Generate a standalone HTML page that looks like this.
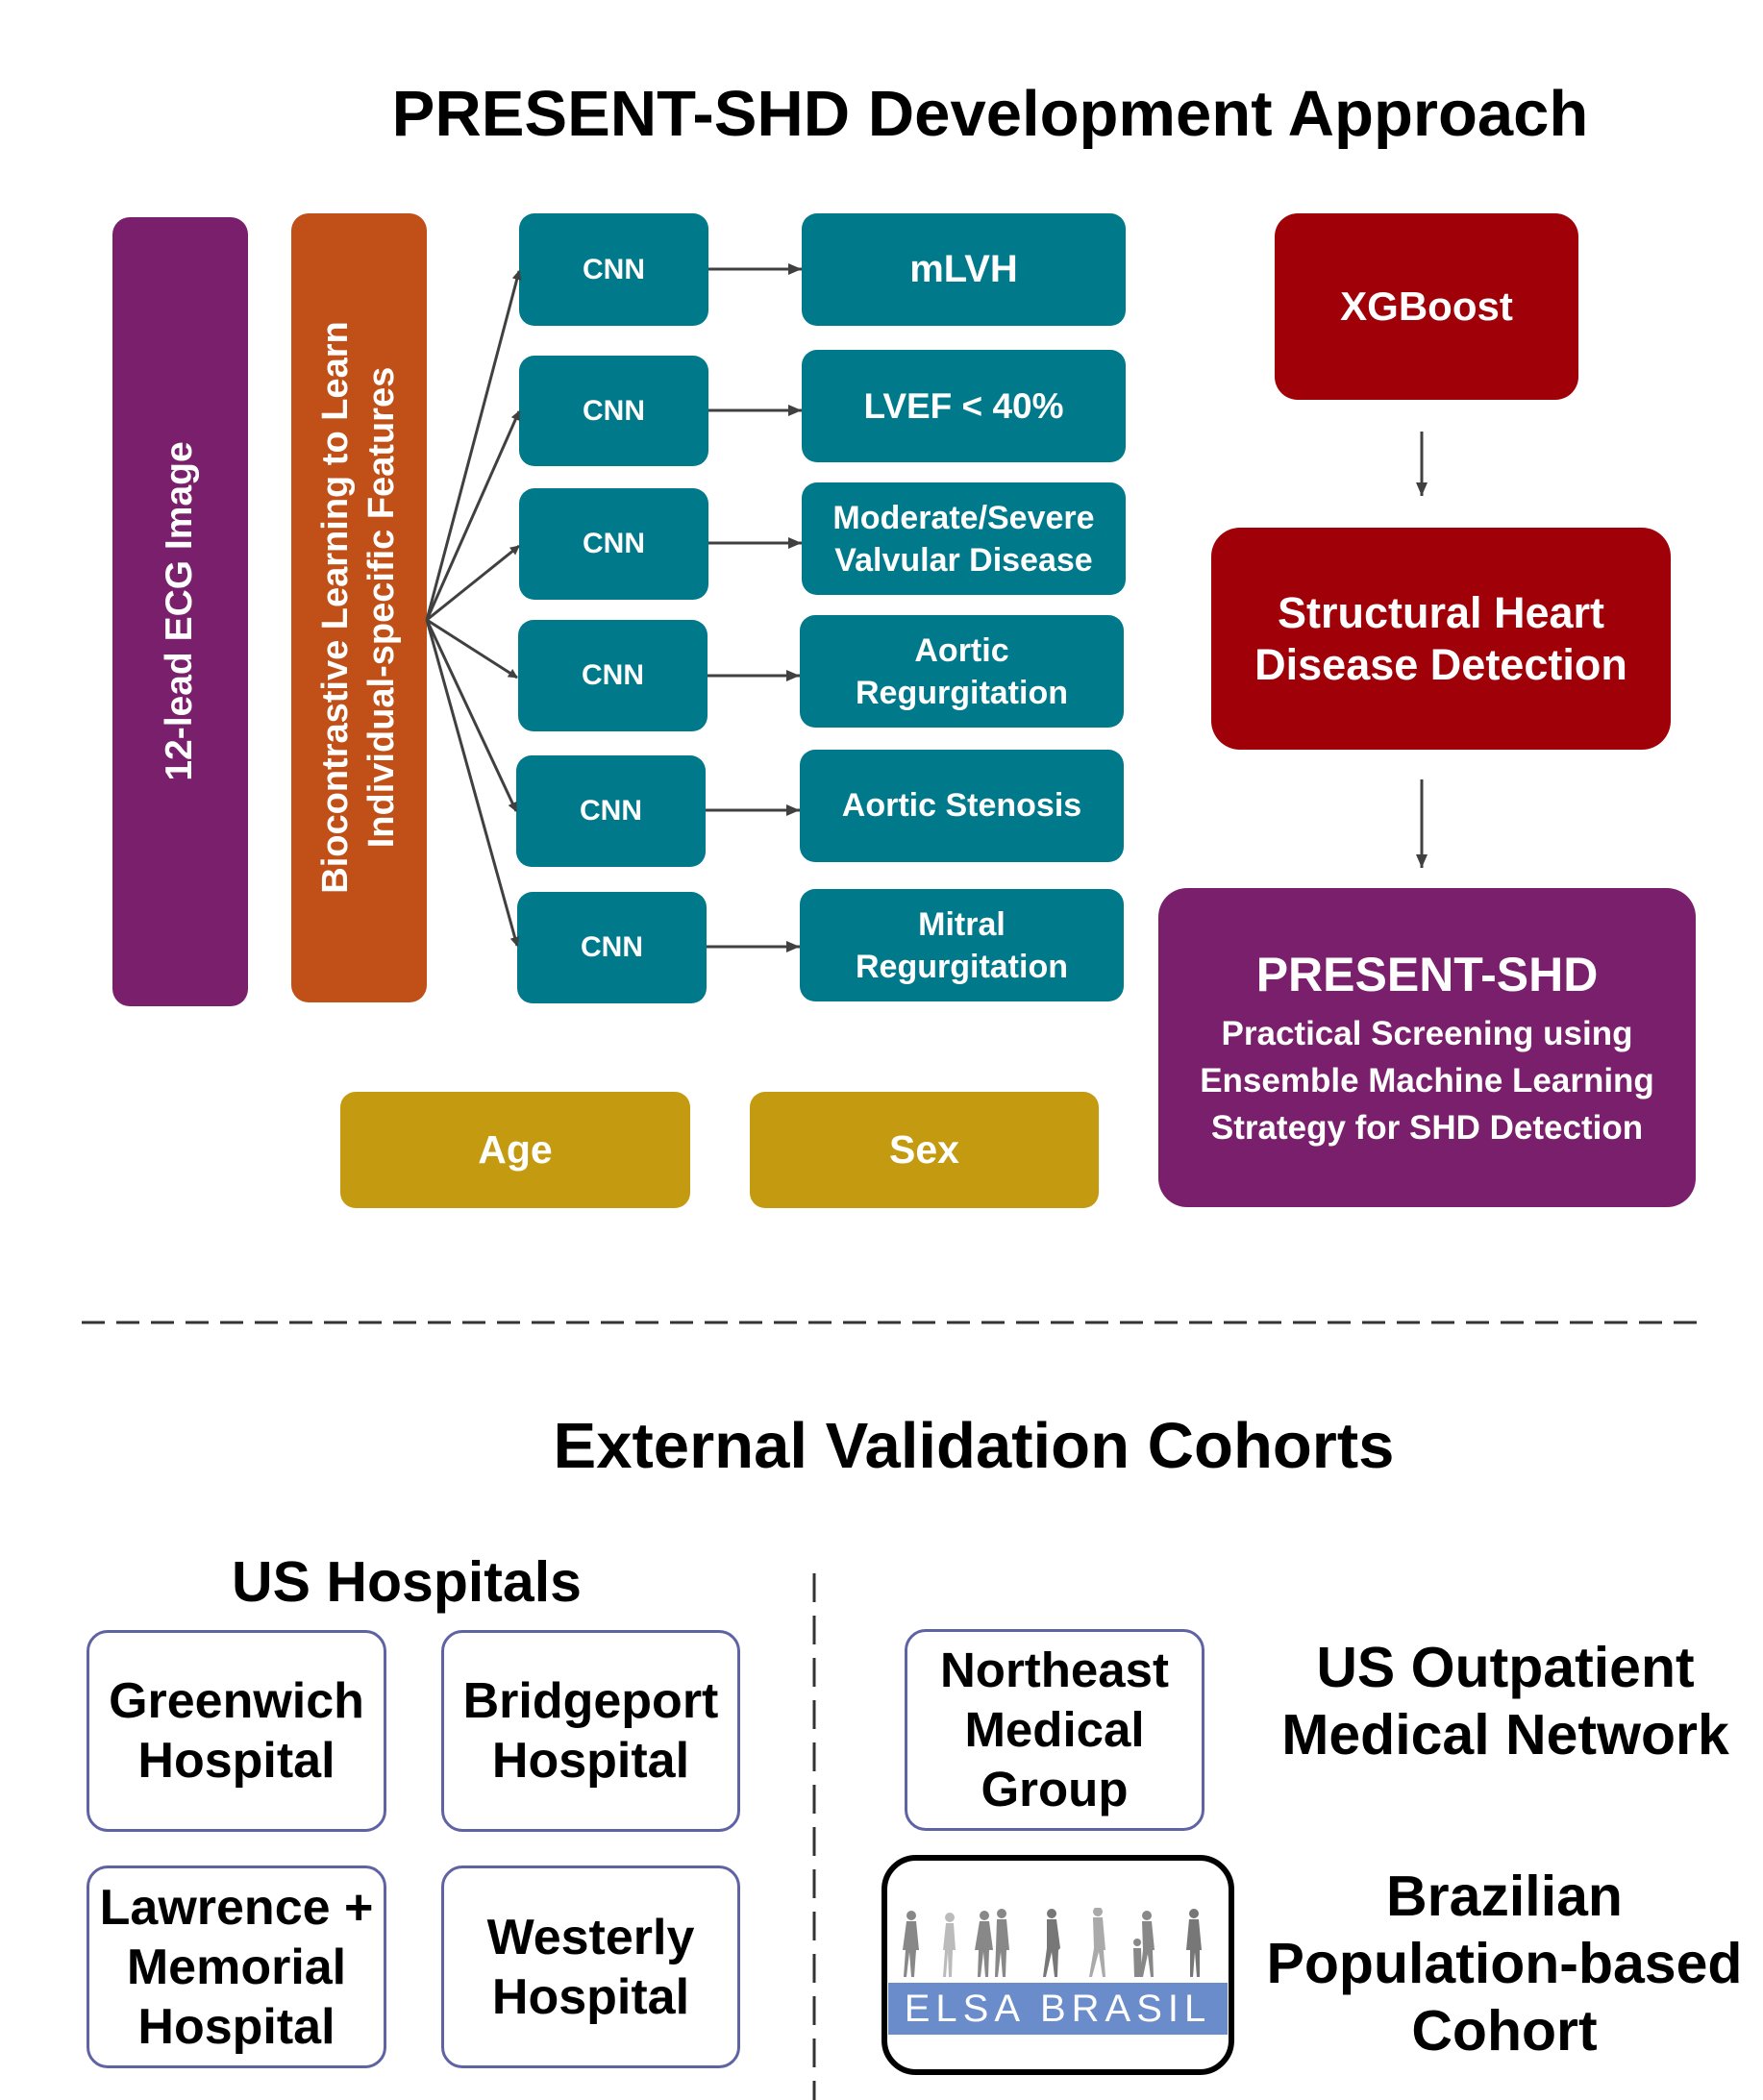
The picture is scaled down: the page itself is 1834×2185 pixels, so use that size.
<!DOCTYPE html>
<html><head><meta charset="utf-8"><style>
body{margin:0;width:1834px;height:2185px;background:#fff;position:relative;overflow:hidden;font-family:"Liberation Sans",Arial,sans-serif;}
.b{position:absolute;display:flex;align-items:center;justify-content:center;text-align:center;color:#fff;font-weight:bold;box-sizing:border-box;white-space:nowrap;}
.t{background:#00798b;border-radius:16px;}
.h{background:#fff;border:3px solid #5f62a3;border-radius:22px;color:#000;font-size:52px;line-height:62px;}
.lbl{position:absolute;text-align:center;font-weight:bold;color:#000;white-space:nowrap;}
.v{position:absolute;color:#fff;font-weight:bold;white-space:nowrap;transform:rotate(-90deg);text-align:center;}
</style></head><body>
<div class="lbl" style="left:300px;top:80px;width:1460px;font-size:67px;">PRESENT-SHD Development Approach</div>

<div class="b" style="left:117px;top:226px;width:141px;height:821px;background:#7a1f6b;border-radius:18px;"></div>
<div class="v" style="left:-223px;top:614px;width:820px;font-size:39px;line-height:44px;">12-lead ECG Image</div>
<div class="b" style="left:303px;top:222px;width:141px;height:821px;background:#c05018;border-radius:18px;"></div>
<div class="v" style="left:-37px;top:584px;width:820px;font-size:38px;line-height:48px;">Biocontrastive Learning to Learn<br>Individual-specific Features</div>

<div class="b t" style="left:540px;top:222px;width:197px;height:117px;font-size:30px;">CNN</div>
<div class="b t" style="left:540px;top:370px;width:197px;height:115px;font-size:30px;">CNN</div>
<div class="b t" style="left:540px;top:508px;width:197px;height:116px;font-size:30px;">CNN</div>
<div class="b t" style="left:539px;top:645px;width:197px;height:116px;font-size:30px;">CNN</div>
<div class="b t" style="left:537px;top:786px;width:197px;height:116px;font-size:30px;">CNN</div>
<div class="b t" style="left:538px;top:928px;width:197px;height:116px;font-size:30px;">CNN</div>

<div class="b t" style="left:834px;top:222px;width:337px;height:117px;font-size:40px;">mLVH</div>
<div class="b t" style="left:834px;top:364px;width:337px;height:117px;font-size:37px;">LVEF &lt; 40%</div>
<div class="b t" style="left:834px;top:502px;width:337px;height:117px;font-size:34px;line-height:44px;">Moderate/Severe<br>Valvular Disease</div>
<div class="b t" style="left:832px;top:640px;width:337px;height:117px;font-size:34px;line-height:44px;">Aortic<br>Regurgitation</div>
<div class="b t" style="left:832px;top:780px;width:337px;height:117px;font-size:34px;">Aortic Stenosis</div>
<div class="b t" style="left:832px;top:925px;width:337px;height:117px;font-size:34px;line-height:44px;">Mitral<br>Regurgitation</div>

<div class="b" style="left:1326px;top:222px;width:316px;height:194px;background:#a00008;border-radius:24px;font-size:42px;">XGBoost</div>
<div class="b" style="left:1260px;top:549px;width:478px;height:231px;background:#a00008;border-radius:30px;font-size:45px;line-height:54px;">Structural Heart<br>Disease Detection</div>
<div class="b" style="left:1205px;top:924px;width:559px;height:332px;background:#7a1f6b;border-radius:30px;flex-direction:column;">
<div style="font-size:50px;line-height:62px;margin-bottom:6px;">PRESENT-SHD</div>
<div style="font-size:35px;line-height:49px;">Practical Screening using<br>Ensemble Machine Learning<br>Strategy for SHD Detection</div></div>

<div class="b" style="left:354px;top:1136px;width:364px;height:121px;background:#c49a10;border-radius:16px;font-size:41px;">Age</div>
<div class="b" style="left:780px;top:1136px;width:363px;height:121px;background:#c49a10;border-radius:16px;font-size:41px;">Sex</div>

<svg style="position:absolute;left:0;top:0" width="1834" height="2185">
<defs><marker id="a" markerWidth="10" markerHeight="10" refX="9" refY="5" orient="auto" markerUnits="userSpaceOnUse"><path d="M0,0 L10,5 L0,10z" fill="#404040"/></marker>
<marker id="c" markerWidth="16" markerHeight="16" refX="14" refY="8" orient="auto" markerUnits="userSpaceOnUse"><path d="M0,2 L14,8 L0,14z" fill="#404040"/></marker></defs>
<g stroke="#404040" stroke-width="3" fill="none" marker-end="url(#a)">
<line x1="444" y1="645" x2="540" y2="282"/>
<line x1="444" y1="645" x2="540" y2="428"/>
<line x1="444" y1="645" x2="540" y2="568"/>
<line x1="444" y1="645" x2="538" y2="705"/>
<line x1="444" y1="645" x2="537" y2="844"/>
<line x1="444" y1="645" x2="538" y2="984"/>
<line x1="737" y1="280" x2="834" y2="280" marker-end="url(#c)"/>
<line x1="737" y1="427" x2="834" y2="427" marker-end="url(#c)"/>
<line x1="737" y1="565" x2="834" y2="565" marker-end="url(#c)"/>
<line x1="736" y1="703" x2="832" y2="703" marker-end="url(#c)"/>
<line x1="734" y1="843" x2="832" y2="843" marker-end="url(#c)"/>
<line x1="735" y1="985" x2="832" y2="985" marker-end="url(#c)"/>
<line x1="1479" y1="449" x2="1479" y2="516" marker-end="url(#c)"/>
<line x1="1479" y1="811" x2="1479" y2="903" marker-end="url(#c)"/>
</g>
<line x1="85" y1="1376" x2="1775" y2="1376" stroke="#333" stroke-width="3" stroke-dasharray="24,12"/>
<line x1="847" y1="1637" x2="847" y2="2185" stroke="#333" stroke-width="3" stroke-dasharray="30,14"/>
</svg>

<div class="lbl" style="left:413px;top:1466px;width:1200px;font-size:67px;">External Validation Cohorts</div>
<div class="lbl" style="left:123px;top:1612px;width:600px;font-size:59px;">US Hospitals</div>

<div class="b h" style="left:90px;top:1696px;width:312px;height:210px;">Greenwich<br>Hospital</div>
<div class="b h" style="left:459px;top:1696px;width:311px;height:210px;">Bridgeport<br>Hospital</div>
<div class="b h" style="left:90px;top:1941px;width:312px;height:211px;">Lawrence +<br>Memorial<br>Hospital</div>
<div class="b h" style="left:459px;top:1941px;width:311px;height:211px;">Westerly<br>Hospital</div>
<div class="b h" style="left:941px;top:1695px;width:312px;height:210px;font-size:51px;">Northeast<br>Medical<br>Group</div>

<div style="position:absolute;left:917px;top:1930px;width:367px;height:229px;border:6px solid #000;border-radius:36px;box-sizing:border-box;background:#fff;"></div>
<svg style="position:absolute;left:924px;top:1985px" width="353" height="75">
<g fill="#888">
<g transform="translate(16,0)"><circle cx="8" cy="8" r="5"/><path d="M3,14 h10 l3,30 -3,0 -2,28 h-3 l-2,-26 -3,26 h-3 l2,-28 -3,0z"/></g>
<g transform="translate(56,0)" fill="#bbb"><circle cx="8" cy="10" r="5"/><path d="M4,16 h8 l2,28 -3,0 -1,28 h-3 l-1,-26 -2,26 h-3 l2,-28 -2,0z"/></g>
<g transform="translate(92,0)"><circle cx="8" cy="8" r="5"/><path d="M3,14 h10 l4,30 -4,0 -1,28 h-3 l-2,-26 -3,26 h-3 l1,-28 -4,0z"/><circle cx="26" cy="6" r="5"/><path d="M21,12 h10 l3,32 -3,0 -1,28 h-3 l-2,-26 -3,26 h-3 l1,-30z"/></g>
<g transform="translate(160,0)" fill="#777"><circle cx="10" cy="6" r="5"/><path d="M5,12 h10 l4,30 -2,2 -1,28 h-3 l-3,-26 -6,26 h-3 l4,-30z"/></g>
<g transform="translate(208,0)" fill="#aaa"><circle cx="10" cy="4" r="5"/><path d="M5,10 h10 l3,34 -2,0 2,28 h-3 l-4,-26 -7,26 h-3 l5,-30z"/></g>
<g transform="translate(255,0)"><circle cx="14" cy="8" r="5"/><path d="M9,14 h10 l3,30 -2,0 1,28 h-3 l-3,-24 -5,24 h-3 l3,-28z"/><circle cx="4" cy="36" r="4"/><path d="M0,42 h8 l1,30 h-8z"/></g>
<g transform="translate(310,0)" fill="#777"><circle cx="8" cy="6" r="5"/><path d="M3,12 h10 l3,32 -2,0 0,28 h-3 l-2,-26 -2,26 h-3 l0,-28 -4,0z"/></g>
</g></svg>
<div class="b" style="left:924px;top:2063px;width:353px;height:54px;background:#6b8cca;font-weight:normal;font-size:40px;letter-spacing:6px;">ELSA BRASIL</div>

<div class="lbl" style="left:1316px;top:1700px;width:500px;font-size:59px;line-height:70px;">US Outpatient<br>Medical Network</div>
<div class="lbl" style="left:1300px;top:1938px;width:530px;font-size:59px;line-height:70px;">Brazilian<br>Population-based<br>Cohort</div>
</body></html>
